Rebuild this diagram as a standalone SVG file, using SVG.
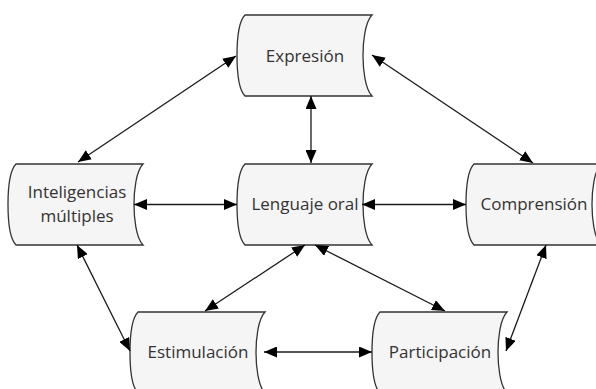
<svg xmlns="http://www.w3.org/2000/svg" xmlns:xlink="http://www.w3.org/1999/xlink" width="596" height="389" viewBox="0 0 596 389">
<style>
.shape{fill:#f5f5f5;stroke:#333333;stroke-width:1.3}
.lbl{font-family:"Open Sans","Noto Sans",sans-serif;font-size:17px;fill:#333333;text-anchor:middle}
.edge{stroke:#1a1a1a;stroke-width:1.3;fill:none;marker-start:url(#ah);marker-end:url(#ah)}
</style>
<defs>
<path id="ds" d="M8,0 L135,0 C128,7 126,27 126,40.5 C126,54 128,74 135,81 L8,81 C1,74 0,54 0,40.5 C0,27 1,7 8,0 Z"/>
<marker id="ah" viewBox="0 0 13 11" refX="13" refY="5.5" markerWidth="13" markerHeight="11" markerUnits="userSpaceOnUse" orient="auto-start-reverse">
<path d="M0,0 L13,5.5 L0,11 Z" fill="#000"/>
</marker>
</defs>
<g id="nodes">
<g id="expresion"><use xlink:href="#ds" class="shape" x="237" y="15"/><text class="lbl" x="305" y="62">Expresión</text></g>
<g id="lenguaje"><use xlink:href="#ds" class="shape" x="237" y="164"/><text class="lbl" x="305" y="210">Lenguaje oral</text></g>
<g id="inteligencias"><use xlink:href="#ds" class="shape" x="8" y="164"/><text class="lbl" x="77" y="198">Inteligencias</text><text class="lbl" x="77" y="222">múltiples</text></g>
<g id="comprension"><use xlink:href="#ds" class="shape" x="466" y="164"/><text class="lbl" x="534" y="210">Comprensión</text></g>
<g id="estimulacion"><use xlink:href="#ds" class="shape" x="130" y="312"/><text class="lbl" x="198" y="358">Estimulación</text></g>
<g id="participacion"><use xlink:href="#ds" class="shape" x="372" y="312"/><text class="lbl" x="440" y="358">Participación</text></g>
</g>
<g id="connectors">
<line class="edge" x1="236" y1="56" x2="78" y2="162"/>
<line class="edge" x1="372" y1="55" x2="533" y2="163"/>
<line class="edge" x1="311" y1="96" x2="311" y2="163"/>
<line class="edge" x1="134" y1="204.5" x2="237" y2="204.5"/>
<line class="edge" x1="362" y1="204.5" x2="466" y2="204.5"/>
<line class="edge" x1="77" y1="245" x2="130" y2="351"/>
<line class="edge" x1="305" y1="245" x2="205" y2="311"/>
<line class="edge" x1="315" y1="245" x2="445" y2="311"/>
<line class="edge" x1="546" y1="245" x2="506" y2="351"/>
<line class="edge" x1="264" y1="352" x2="372" y2="352"/>
</g>
</svg>
